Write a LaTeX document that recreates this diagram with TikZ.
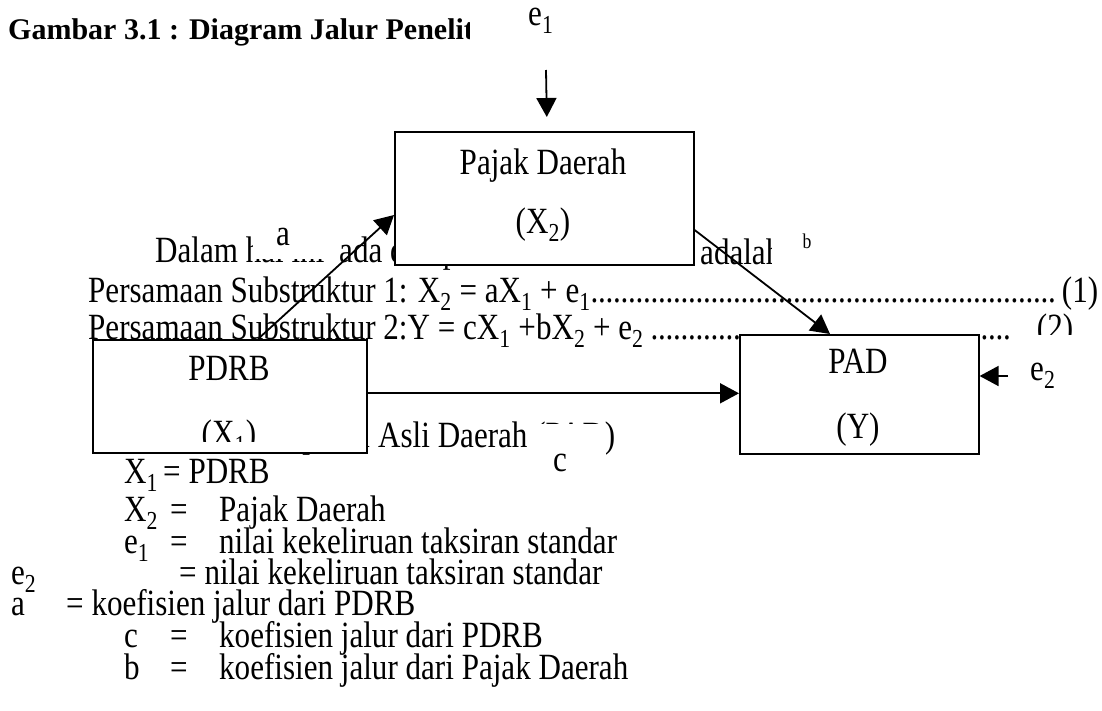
\documentclass[tikz,border=0pt]{standalone}
\usepackage{fontspec}
\setmainfont{Liberation Serif}[FakeStretch=0.84]
\newfontfamily\titlefont{Liberation Serif}
\usetikzlibrary{arrows.meta}
\newcommand\dotlead{\leaders\hbox to 7.5pt{\hss.\hss}\hfill}
\begin{document}
\begin{tikzpicture}[x=1pt,y=-1pt,
  body/.style={inner sep=0pt, anchor=base west, font=\fontsize{37}{40}\selectfont},
  lbl/.style={inner sep=0pt, anchor=base, font=\fontsize{37}{40}\selectfont},
  boxnode/.style={draw, line width=1.6pt, fill=white, inner sep=0pt, anchor=north west},
  arr/.style={line width=1.8pt, -{Triangle[length=19pt,width=20pt]}},
  mask/.style={fill=white, draw=none}]
\useasboundingbox[fill=white] (0,0) rectangle (1102,710);

% title
\node[body, font=\titlefont\bfseries\fontsize{30}{34}\selectfont] (title) at (8,39) {Gambar 3.1 : Diagram Jalur Penelitian};

% underlying document text
\node[body] (t1) at (155,262) {Dalam hal ini};
\node[body] (t2) at (339,262) {ada dua persamaan struktur};
\node[body] (t3) at (700,264) {adalah};
\node[body] (p1) at (88,302) {\hbox to 1010pt{Persamaan Substruktur 1: X\textsubscript{2} = aX\textsubscript{1} + e\textsubscript{1}\dotlead(1)}};
\node[body] (p2) at (88,339) {\hbox to 985pt{Persamaan Substruktur 2:Y = cX\textsubscript{1} +bX\textsubscript{2} + e\textsubscript{2}\dotlead(2)}};
\node[body, anchor=base east] (y0) at (370,447) {Y = Pendapatan};
\node[body] (y1) at (378,447) {Asli Daerah (PAD)};

\node[body] (x1l) at (124,483) {X\textsubscript{1}};
\node[body] (x1r) at (163,483) {= PDRB};
\node[body] (x2l) at (124,521) {X\textsubscript{2}};
\node[body] (x2e) at (170,521) {=};
\node[body] (x2r) at (219,521) {Pajak Daerah};
\node[body] (e1l) at (124,553) {e\textsubscript{1}};
\node[body] (e1e) at (170,553) {=};
\node[body] (e1r) at (219,553) {nilai kekeliruan taksiran standar};
\node[body] (e2l) at (11,584) {e\textsubscript{2}};
\node[body] (e2r) at (179,584) {= nilai kekeliruan taksiran standar};
\node[body] (al) at (11,615) {a};
\node[body] (ar) at (66,615) {= koefisien jalur dari PDRB};
\node[body] (cl) at (124,647) {c};
\node[body] (ce) at (170,647) {=};
\node[body] (cr) at (219,647) {koefisien jalur dari PDRB};
\node[body] (bl) at (124,679) {b};
\node[body] (be) at (170,679) {=};
\node[body] (br) at (219,679) {koefisien jalur dari Pajak Daerah};

% white text frames of the labels
\fill[mask] (470,0) rectangle (615,55);
\fill[mask] (253,212) rectangle (336,259);
\fill[mask] (772,215) rectangle (850,270);
\fill[mask] (528,424) rectangle (606,485);
\fill[mask] (1010,335) rectangle (1102,420);

% boxes
\node[boxnode, minimum width=299pt, minimum height=133pt] (pajak) at (394,131) {};
\node[boxnode, minimum width=274pt, minimum height=113pt] (pdrb) at (92,339) {};
\node[boxnode, minimum width=239pt, minimum height=119pt] (pad) at (739,334) {};

\node[lbl] (pajakT) at (543,174) {Pajak Daerah};
\node[lbl] (pajakS) at (543,233) {(X\textsubscript{2})};
\node[lbl] (pdrbT) at (229,380) {PDRB};
\begin{scope}
  \clip (pdrb.north west) rectangle ([yshift=12pt]pdrb.south east);
  \node[lbl] (pdrbS) at (229,445) {(X\textsubscript{1})};
\end{scope}
\node[lbl] (padT) at (858,373) {PAD};
\node[lbl] (padS) at (858,438) {(Y)};

% labels
\node[body] (e1) at (528,25) {e\textsubscript{1}};
\node[lbl] (la) at (283,245) {a};
\node[lbl, font=\fontsize{21}{24}\selectfont] (lb) at (807,248) {b};
\node[lbl] (lc) at (560,471) {c};
\node[body] (e2) at (1030,380) {e\textsubscript{2}};

% connectors
\coordinate (e1tail) at (546,70);
\coordinate (e1tip) at ([xshift=2.5pt,yshift=14pt]pajak.north);
\draw[arr] (e1tail) -- (e1tip);
\draw[arr] ([xshift=166pt]pdrb.north west) -- ([yshift=-84pt]pajak.north west);
\draw[arr] ([yshift=-99pt]pajak.north east) -- ([xshift=91pt]pad.north west);
\coordinate (cstart) at ([yshift=3pt]pdrb.east);
\draw[arr] (cstart) -- (cstart -| pad.west);
\coordinate (e2tail) at (1008,376);
\draw[arr] (e2tail) -- (e2tail -| pad.east);
\end{tikzpicture}
\end{document}
